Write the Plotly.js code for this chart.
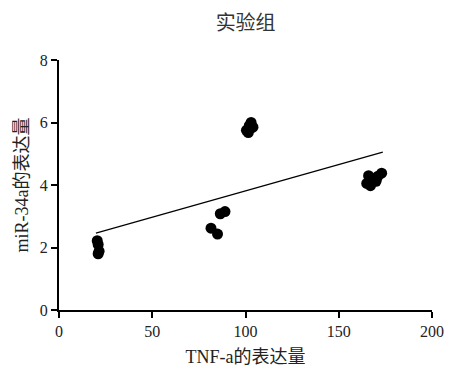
<!DOCTYPE html>
<html><head><meta charset="utf-8">
<script src="https://cdn.plot.ly/plotly-3.0.1.min.js"></script>
<style>html,body{margin:0;padding:0;background:#fff}#chart{width:460px;height:378px}</style>
</head><body><div id="chart"></div>
<script>
// Scatter data: TNF-a expression (x) vs miR-34a expression (y)
const tnfValues = [20.5, 21, 21.5, 21, 81.5, 85, 86.5, 89, 100.5, 101.5, 102, 103, 104, 102.5, 165, 166, 167, 168, 170, 171, 173];
const mirValues = [2.22, 2.1, 1.88, 1.8, 2.62, 2.43, 3.08, 3.15, 5.75, 5.68, 5.9, 6.0, 5.85, 5.8, 4.05, 4.3, 3.98, 4.2, 4.12, 4.28, 4.38];
// Trend line endpoints
const fitX = [19.8, 173.6];
const fitY = [2.46, 5.05];
const xTicks = [0, 50, 100, 150, 200];
const yTicks = [0, 2, 4, 6, 8];

const fontFam = '"Liberation Serif", "Times New Roman", "Noto Sans CJK SC", serif';
const data = [
  {x: fitX, y: fitY, type: 'scatter', mode: 'lines', line: {color: '#000', width: 1.2}, hoverinfo: 'skip'},
  {x: tnfValues, y: mirValues, type: 'scatter', mode: 'markers', marker: {color: '#000', size: 11}}
];
const layout = {
  width: 460, height: 378,
  margin: {l: 59, r: 28, t: 60, b: 68},
  paper_bgcolor: '#fff', plot_bgcolor: '#fff',
  showlegend: false,
  font: {family: fontFam, color: '#222', size: 15},
  title: {text: '实验组', x: 0.534, xanchor: 'center', y: 0.938, yanchor: 'middle', font: {family: '"Noto Sans CJK SC", sans-serif', size: 20, color: '#333'}},
  xaxis: {
    range: [0, 200], tickvals: xTicks, ticktext: xTicks.map(String),
    showline: true, linecolor: '#000', linewidth: 2, mirror: false,
    ticks: 'outside', ticklen: 6, tickwidth: 2, tickcolor: '#000',
    showgrid: false, zeroline: false,
    tickfont: {family: fontFam, size: 16, color: '#222'},
    title: {text: 'TNF-a的表达量', standoff: 11, font: {family: fontFam, size: 18, color: '#222'}}
  },
  yaxis: {
    range: [0, 8], tickvals: yTicks, ticktext: yTicks.map(String),
    showline: true, linecolor: '#000', linewidth: 2, mirror: false,
    ticks: 'outside', ticklen: 6, tickwidth: 2, tickcolor: '#000',
    showgrid: false, zeroline: false,
    tickfont: {family: fontFam, size: 16, color: '#222'},
    title: {text: 'miR-34a的表达量', standoff: 6, font: {family: fontFam, size: 18, color: '#222'}}
  }
};
Plotly.newPlot('chart', data, layout, {displayModeBar: false, staticPlot: true});
</script></body></html>
